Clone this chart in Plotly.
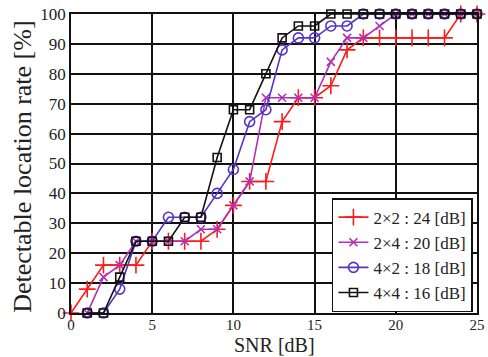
import plotly.graph_objects as go

snr_red = list(range(0, 26))
rate_2x2 = [0, 8, 16, 16, 16, 24, 24, 24, 24, 28, 36, 44, 44, 64, 72, 72, 76, 88, 92, 92, 92, 92, 92, 92, 100, 100]

snr_other = list(range(1, 26))
rate_2x4 = [0, 12, 16, 24, 24, 24, 24, 28, 28, 36, 44, 72, 72, 72, 72, 84, 92, 92, 96, 100, 100, 100, 100, 100, 100]
rate_4x2 = [0, 0, 8, 24, 24, 32, 32, 32, 40, 48, 64, 68, 88, 92, 92, 96, 96, 100, 100, 100, 100, 100, 100, 100, 100]
rate_4x4 = [0, 0, 12, 24, 24, 24, 32, 32, 52, 68, 68, 80, 92, 96, 96, 100, 100, 100, 100, 100, 100, 100, 100, 100, 100]

names = ["2×2 : 24 [dB]", "2×4 : 20 [dB]", "4×2 : 18 [dB]", "4×4 : 16 [dB]"]
colors = ["#ff1a1a", "#b030b8", "#5533c8", "#111111"]
symbols = ["cross-thin-open", "x-thin-open", "circle-open", "square-open"]
xs = [snr_red, snr_other, snr_other, snr_other]
ys = [rate_2x2, rate_2x4, rate_4x2, rate_4x4]
sizes = [12, 8, 10, 8]

fig = go.Figure()
for x, y, n, c, s, sz in zip(xs, ys, names, colors, symbols, sizes):
    fig.add_trace(go.Scatter(
        x=x, y=y, name=n, mode="lines+markers",
        line=dict(color=c, width=1.6),
        marker=dict(symbol=s, size=sz, color=c, line=dict(color=c, width=1.6)),
        cliponaxis=False,
    ))

font = "Liberation Serif, Times New Roman, serif"
fig.update_layout(
    width=488, height=357,
    margin=dict(l=71, r=11, t=14, b=44),
    paper_bgcolor="white", plot_bgcolor="white",
    font=dict(family=font, color="#222222"),
    showlegend=True,
    legend=dict(
        x=0.99, y=0.003, xanchor="right", yanchor="bottom",
        bgcolor="white", bordercolor="#111111", borderwidth=1.5,
        font=dict(family=font, size=17, color="#222222"),
        itemwidth=30, tracegroupgap=0,
    ),
    xaxis=dict(
        range=[0, 25], tickvals=[0, 5, 10, 15, 20, 25],
        showgrid=True, gridcolor="#111111", gridwidth=1.6,
        showline=True, linecolor="#111111", linewidth=1.6, mirror=True,
        zeroline=False, ticks="", automargin=False, ticklabelstandoff=-3,
        tickfont=dict(family=font, size=15, color="#222222"),
    ),
    yaxis=dict(
        range=[0, 100], tickvals=list(range(0, 101, 10)),
        showgrid=True, gridcolor="#111111", gridwidth=1.6,
        showline=True, linecolor="#111111", linewidth=1.6, mirror=True,
        zeroline=False, ticks="", automargin=False,
        tickfont=dict(family=font, size=17, color="#222222"),
    ),
    annotations=[
        dict(text="SNR [dB]", xref="paper", yref="paper", x=0.5, y=-0.107,
             xanchor="center", yanchor="middle", showarrow=False, borderpad=0,
             font=dict(family=font, size=20, color="#222222")),
        dict(text="Detectable location rate [%]", xref="paper", yref="paper",
             x=-0.12, y=0.49, xanchor="center", yanchor="middle", textangle=-90,
             showarrow=False, font=dict(family=font, size=26, color="#222222")),
    ],
)

fig.write_html("out.html")
